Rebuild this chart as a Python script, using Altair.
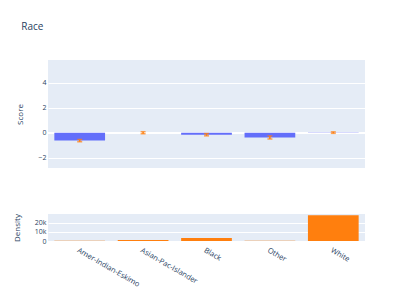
import altair as alt
import pandas as pd

categories = ["Amer-Indian-Eskimo", "Asian-Pac-Islander", "Black", "Other", "White"]
scores = [-0.62, 0.01, -0.15, -0.37, 0.02]
errors = [0.09, 0.08, 0.09, 0.12, 0.06]
density = [311, 1039, 3124, 271, 27816]

score_ticks = [-2, 0, 2, 4]
density_ticks = [0, 10000, 20000]

df = pd.DataFrame({"cat": categories, "score": scores, "err": errors, "density": density})
df["lo"] = df["score"] - df["err"]
df["hi"] = df["score"] + df["err"]
df["zero"] = 0.0

BLUE = "#636efa"
ORANGE = "#ff7f0e"
TXT = "#2a3f5f"
FONT = "Open Sans"

xscale = alt.Scale(domain=categories, paddingInner=0.2, paddingOuter=0.1)
yscale = alt.Scale(domain=[-2.8, 5.8], nice=False, zero=False)
yaxis = alt.Axis(title="Score", values=score_ticks, tickSize=0, domain=False, labelOverlap=False,
                 labelPadding=2, titlePadding=13, gridColor="white", gridWidth=1)

base = alt.Chart(df)

zero = base.mark_rule(color="white", strokeWidth=1.5).encode(
    y=alt.Y("zero:Q", scale=yscale, axis=yaxis)
)

bars = base.mark_bar(color=BLUE).encode(
    x=alt.X("cat:N", scale=xscale, axis=None, sort=categories),
    y=alt.Y("score:Q", scale=yscale, axis=yaxis),
    y2="zero:Q",
)

err = base.mark_errorbar(color=ORANGE, ticks=True, thickness=1.5, size=5).encode(
    x=alt.X("cat:N", scale=xscale, axis=None, sort=categories),
    y=alt.Y("lo:Q", scale=yscale, axis=yaxis),
    y2="hi:Q",
)

top = alt.layer(zero, bars, err).properties(width=317, height=108)

bottom = base.mark_bar(color=ORANGE).encode(
    x=alt.X("cat:N", scale=xscale, sort=categories,
            axis=alt.Axis(title=None, labelAngle=30, labelAlign="left", labelBaseline="top",
                          tickSize=0, domain=False, labelPadding=5, grid=False,
                          labelFontSize=7.5)),
    y=alt.Y("density:Q", scale=alt.Scale(domain=[0, 29300], nice=False),
            axis=alt.Axis(title="Density", values=density_ticks,
                          labelExpr="datum.value == 0 ? '0' : format(datum.value / 1000, 'd') + 'k'",
                          tickSize=0, labelOverlap=False,
                          domain=False, labelPadding=2, titlePadding=13,
                          gridColor="white", gridWidth=1)),
).properties(width=317, height=27)

chart = alt.vconcat(top, bottom, spacing=45).properties(
    title=alt.TitleParams("Race", anchor="start", fontSize=10, fontWeight="normal",
                          color=TXT, font=FONT, offset=28, dx=8),
    padding={"left": 5, "top": 14, "right": 0, "bottom": 0},
).configure_view(
    fill="#e5ecf6", stroke=None
).configure_axis(
    labelFont=FONT, titleFont=FONT, labelFontSize=7, titleFontSize=8,
    labelColor=TXT, titleColor=TXT, titleFontWeight="normal",
)

chart.save("out.html", embed_options={"renderer": "svg", "actions": False})
